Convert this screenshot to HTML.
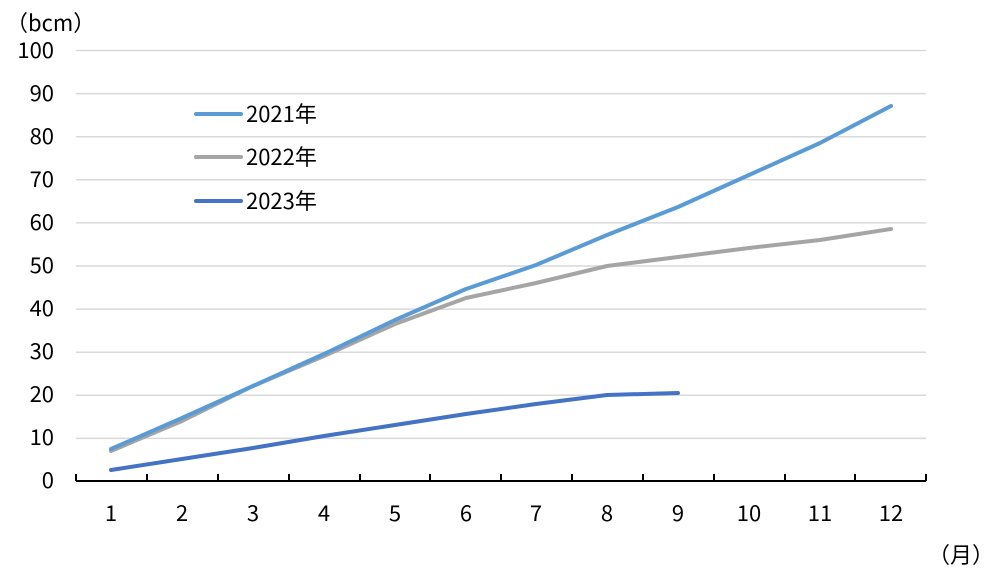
<!DOCTYPE html>
<html><head><meta charset="utf-8"><style>body{margin:0;background:#fff}svg{display:block}</style></head>
<body>
<svg width="1002" height="588" xmlns="http://www.w3.org/2000/svg" font-family="'Noto Sans CJK JP','Liberation Sans',sans-serif" font-size="22" fill="#000">
<g stroke="#d9d9d9" stroke-width="1.5">
<line x1="76" x2="926" y1="50.5" y2="50.5"/><line x1="76" x2="926" y1="93.6" y2="93.6"/><line x1="76" x2="926" y1="136.7" y2="136.7"/><line x1="76" x2="926" y1="179.8" y2="179.8"/><line x1="76" x2="926" y1="222.9" y2="222.9"/><line x1="76" x2="926" y1="266" y2="266"/><line x1="76" x2="926" y1="309.1" y2="309.1"/><line x1="76" x2="926" y1="352.2" y2="352.2"/><line x1="76" x2="926" y1="395.3" y2="395.3"/><line x1="76" x2="926" y1="438.4" y2="438.4"/>
</g>
<g stroke="#000" stroke-width="2">
<line x1="76" x2="926" y1="481" y2="481"/>
<path d="M76 474V481M147 474V481M218 474V481M289 474V481M360 474V481M430 474V481M501 474V481M572 474V481M643 474V481M714 474V481M785 474V481M855 474V481M926 474V481"/>
</g>
<g text-anchor="end">
<text x="54" y="58">100</text><text x="54" y="101">90</text><text x="54" y="144">80</text><text x="54" y="187">70</text><text x="54" y="230">60</text><text x="54" y="273">50</text><text x="54" y="316">40</text><text x="54" y="359">30</text><text x="54" y="402">20</text><text x="54" y="445">10</text><text x="54" y="488">0</text>
</g>
<text x="6" y="31">（bcm）</text>
<text x="928" y="563">（月）</text>
<g text-anchor="middle">
<text x="111" y="521">1</text><text x="182" y="521">2</text><text x="253" y="521">3</text><text x="324" y="521">4</text><text x="395" y="521">5</text><text x="466" y="521">6</text><text x="536" y="521">7</text><text x="607" y="521">8</text><text x="678" y="521">9</text><text x="749" y="521">10</text><text x="820" y="521">11</text><text x="891" y="521">12</text>
</g>
<g fill="none" stroke-width="4" stroke-linejoin="round" stroke-linecap="round">
<polyline stroke="#a5a5a5" points="111,451 182,421 253,386 324,356 395,324 466,298 536,283 607,266 678,257 749,248 820,240 891,229"/>
<polyline stroke="#5b9bd5" points="111,449 182,418 253,386 324,354 395,320 466,289 536,265 607,235 678,207 749,175 820,143 891,106"/>
<polyline stroke="#4472c4" points="111,470 182,459 253,448 324,436 395,425 466,414 536,404 607,395 678,393"/>
</g>
<g stroke-width="4" stroke-linecap="round">
<line x1="196" x2="241" y1="114" y2="114" stroke="#5b9bd5"/>
<line x1="196" x2="241" y1="157" y2="157" stroke="#a5a5a5"/>
<line x1="196" x2="241" y1="201" y2="201" stroke="#4472c4"/>
</g>
<text x="246" y="122">2021年</text>
<text x="246" y="165">2022年</text>
<text x="246" y="209">2023年</text>
</svg>
</body></html>
